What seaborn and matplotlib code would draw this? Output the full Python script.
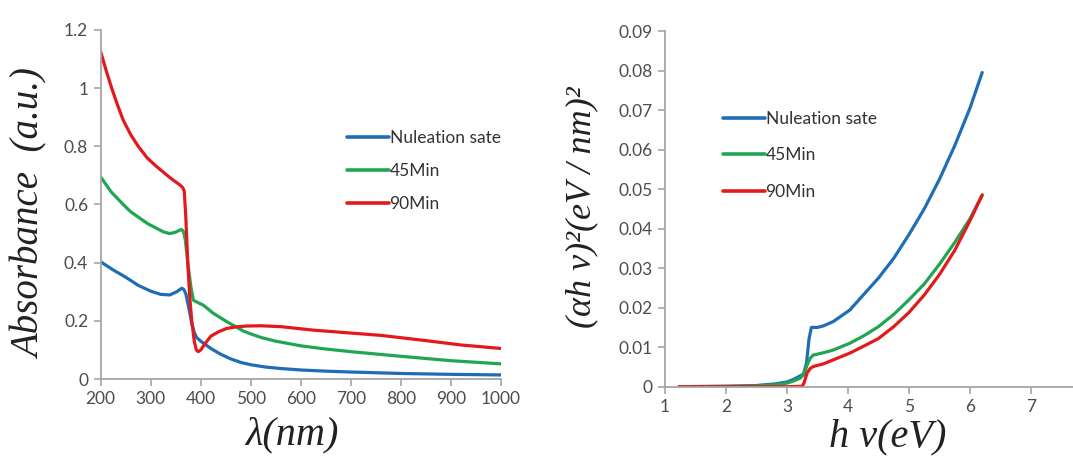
import numpy as np
import pandas as pd
import matplotlib
matplotlib.use("Agg")
import matplotlib.pyplot as plt
import seaborn as sns

# ---------------- data: absorbance spectra ----------------
series_names = ["Nuleation sate", "45Min", "90Min"]

wl_blue = [200, 225, 250, 275, 300, 320, 338, 352, 362, 366, 370, 376, 382, 387, 392, 400, 420, 440, 460, 480, 500, 530, 560, 600, 650, 700, 800, 900, 1000]
abs_blue = [0.403, 0.375, 0.35, 0.322, 0.302, 0.291, 0.289, 0.300, 0.312, 0.308, 0.294, 0.245, 0.191, 0.160, 0.142, 0.130, 0.105, 0.085, 0.069, 0.057, 0.049, 0.041, 0.036, 0.031, 0.027, 0.024, 0.019, 0.016, 0.014]

wl_green = [200, 220, 245, 260, 279, 295, 312, 325, 338, 350, 358, 362, 366, 369, 374, 380, 385, 395, 405, 425, 452, 472, 485, 500, 520, 550, 600, 650, 700, 800, 900, 1000]
abs_green = [0.695, 0.645, 0.60, 0.575, 0.552, 0.533, 0.518, 0.506, 0.500, 0.505, 0.512, 0.514, 0.505, 0.480, 0.400, 0.320, 0.271, 0.262, 0.254, 0.226, 0.197, 0.178, 0.165, 0.155, 0.143, 0.130, 0.114, 0.103, 0.094, 0.078, 0.063, 0.052]

wl_red = [200, 211, 222, 233, 245, 260, 275, 293, 312, 326, 340, 352, 360, 364, 367, 370, 374, 378, 382, 387, 391, 395, 400, 410, 420, 435, 452, 470, 490, 520, 560, 625, 700, 760, 850, 920, 1000]
abs_red = [1.125, 1.06, 1.0, 0.945, 0.89, 0.84, 0.80, 0.76, 0.73, 0.71, 0.69, 0.675, 0.665, 0.658, 0.645, 0.56, 0.40, 0.28, 0.20, 0.13, 0.10, 0.094, 0.10, 0.125, 0.147, 0.162, 0.174, 0.179, 0.182, 0.183, 0.180, 0.168, 0.158, 0.150, 0.132, 0.117, 0.105]

# ---------------- data: Tauc plot ----------------
ev_blue = [1.23, 2.0, 2.5, 2.8, 3.0, 3.1, 3.2, 3.27, 3.32, 3.36, 3.40, 3.50, 3.60, 3.76, 4.03, 4.25, 4.5, 4.75, 5.0, 5.25, 5.5, 5.75, 6.0, 6.2]
tauc_blue = [0.0, 0.0001, 0.0003, 0.0007, 0.0012, 0.0018, 0.0026, 0.0032, 0.0060, 0.0120, 0.0150, 0.0150, 0.0154, 0.0165, 0.0194, 0.0232, 0.0275, 0.0325, 0.0385, 0.0450, 0.0525, 0.0610, 0.0705, 0.0795]

ev_green = [1.23, 2.0, 2.5, 2.8, 3.0, 3.1, 3.21, 3.27, 3.33, 3.38, 3.43, 3.60, 3.76, 4.03, 4.25, 4.5, 4.75, 5.0, 5.25, 5.5, 5.75, 6.0, 6.2]
tauc_green = [0.0, 0.0001, 0.0002, 0.0005, 0.0009, 0.0014, 0.0021, 0.0030, 0.0055, 0.0072, 0.0080, 0.0086, 0.0093, 0.0110, 0.0128, 0.0152, 0.0183, 0.0220, 0.0260, 0.0310, 0.0365, 0.0425, 0.0485]

ev_red = [1.23, 2.0, 2.5, 3.0, 3.25, 3.28, 3.33, 3.38, 3.43, 3.60, 3.76, 4.03, 4.25, 4.5, 4.75, 5.0, 5.25, 5.5, 5.75, 6.0, 6.2]
tauc_red = [0.0, 0.0, 0.0, 0.0, 0.0001, 0.0010, 0.0035, 0.0046, 0.0051, 0.0058, 0.0068, 0.0085, 0.0102, 0.0122, 0.0152, 0.0188, 0.0232, 0.0284, 0.0345, 0.0420, 0.0485]

abs_ticks_x = [200, 300, 400, 500, 600, 700, 800, 900, 1000]
abs_ticks_y = [0, 0.2, 0.4, 0.6, 0.8, 1.0, 1.2]
abs_tick_labels_y = ["0", "0.2", "0.4", "0.6", "0.8", "1", "1.2"]
tauc_ticks_x = [1, 2, 3, 4, 5, 6, 7]
tauc_ticks_y = [0, 0.01, 0.02, 0.03, 0.04, 0.05, 0.06, 0.07, 0.08, 0.09]
tauc_tick_labels_y = ["0", "0.01", "0.02", "0.03", "0.04", "0.05", "0.06", "0.07", "0.08", "0.09"]

colors = ["#1f6db5", "#20a650", "#e3191c"]

# ---------------- build long tables ----------------
df_abs = pd.concat([
    pd.DataFrame({"x": wl_blue, "y": abs_blue, "s": series_names[0]}),
    pd.DataFrame({"x": wl_green, "y": abs_green, "s": series_names[1]}),
    pd.DataFrame({"x": wl_red, "y": abs_red, "s": series_names[2]}),
], ignore_index=True)
df_tauc = pd.concat([
    pd.DataFrame({"x": ev_blue, "y": tauc_blue, "s": series_names[0]}),
    pd.DataFrame({"x": ev_green, "y": tauc_green, "s": series_names[1]}),
    pd.DataFrame({"x": ev_red, "y": tauc_red, "s": series_names[2]}),
], ignore_index=True)

sns.set_theme(style="white")
plt.rcParams["font.family"] = ["Lato", "DejaVu Sans"]

W, H = 1073, 462
fig = plt.figure(figsize=(W / 100, H / 100), dpi=100)
fig.patch.set_facecolor("white")

ax1 = fig.add_axes([100.7 / W, (H - 379) / H, 400.3 / W, 349 / H])
ax2 = fig.add_axes([665 / W, (H - 386.7) / H, 427 / W, 355.7 / H])

pal = dict(zip(series_names, colors))
for ax, df in ((ax1, df_abs), (ax2, df_tauc)):
    sns.lineplot(data=df, x="x", y="y", hue="s", palette=pal, hue_order=series_names,
                 estimator=None, sort=False, linewidth=2.3, ax=ax, legend=True)
    for ln in ax.get_lines():
        ln.set_solid_joinstyle("round")
        ln.set_solid_capstyle("round")

spine_c = "#a6a6a6"
label_c = "#4d4d4d"
for ax in (ax1, ax2):
    for side in ("top", "right"):
        ax.spines[side].set_visible(False)
    for side in ("left", "bottom"):
        ax.spines[side].set_color(spine_c)
        ax.spines[side].set_linewidth(1.3)
    ax.tick_params(axis="both", which="major", direction="out", length=5, width=1.2,
                   color=spine_c, labelcolor=label_c, labelsize=12.5, pad=4,
                   left=True, bottom=True)
    ax.grid(False)
    ax.set_facecolor("white")

ax1.set_xlim(200, 1000)
ax1.set_ylim(0, 1.2)
ax1.set_xticks(abs_ticks_x)
ax1.set_yticks(abs_ticks_y)
ax1.set_yticklabels(abs_tick_labels_y)

ax2.set_xlim(1, 8)
ax2.set_ylim(0, 0.09)
ax2.set_xticks(tauc_ticks_x)
ax2.set_yticks(tauc_ticks_y)
ax2.set_yticklabels(tauc_tick_labels_y)

serif = dict(family=["Liberation Serif", "DejaVu Serif"], style="italic", color="#222222")
ax1.set_xlabel("λ(nm)", fontsize=29, **serif)
ax1.set_ylabel("Absorbance  (a.u.)", fontsize=28, **serif)
ax2.set_xlabel("h ν(eV)", fontsize=29, **serif)
ax2.set_ylabel("(αh ν)²(eV / nm)²", fontsize=26, **serif)

ax1.xaxis.set_label_coords((293 - 100.7) / 400.3, (379 - 416) / 349)
ax1.yaxis.set_label_coords((50 - 100.7) / 400.3, (379 - 214) / 349)
ax2.xaxis.set_label_coords((888 - 665) / 427, (386.7 - 418) / 355.7)
ax2.yaxis.set_label_coords((598 - 665) / 427, (386.7 - 207) / 355.7)

# legends
for ax, x0, ytop, spacing in ((ax1, 347, 130, 0.98), (ax2, 723, 111, 1.17)):
    handles, labels = ax.get_legend_handles_labels()
    leg = ax.legend(handles, labels, loc="upper left",
                    bbox_to_anchor=(x0 / W, 1 - ytop / H), bbox_transform=fig.transFigure,
                    frameon=False, fontsize=12.5, handlelength=2.4, handletextpad=0.05,
                    labelspacing=spacing, borderpad=0, borderaxespad=0)
    for t in leg.get_texts():
        t.set_color("#333333")
    for l in leg.get_lines():
        l.set_linewidth(2.6)

fig.savefig("out.png", dpi=100, facecolor="white")
